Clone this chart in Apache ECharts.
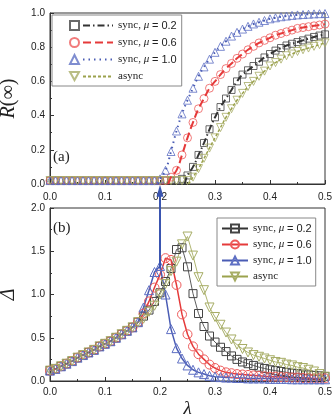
<!DOCTYPE html>
<html>
<head>
<meta charset="utf-8">
<script src="https://cdn.jsdelivr.net/npm/echarts@6.0.0/dist/echarts.min.js"></script>
<style>
  html, body { margin: 0; padding: 0; background: #fff; }
  #chart { width: 333px; height: 415px; }
</style>
</head>
<body>
<div id="chart"></div>
<script>
// lambda grid, 0.00 .. 0.50 step 0.01
const lam = Array.from({ length: 51 }, (_, i) => +(i * 0.01).toFixed(2))

// panel (a): R(inf)
const rSync02 = [0.02,0.02,0.02,0.02,0.02,0.02,0.02,0.02,0.02,0.02,0.02,0.02,0.02,0.02,0.02,0.02,0.02,0.02,0.02,0.02,0.02,0.02,0.02,0.02,
  0.03,0.05,0.10,0.17,0.24,0.32,0.39,0.45,0.50,0.55,0.60,0.64,0.665,0.69,0.715,0.74,0.76,0.78,0.795,0.81,0.82,0.83,0.84,0.85,0.86,0.868,0.875]
const rSync06 = [0.02,0.02,0.02,0.02,0.02,0.02,0.02,0.02,0.02,0.02,0.02,0.02,0.02,0.02,0.02,0.02,0.02,0.02,0.02,0.02,0.02,
  0.02,0.04,0.08,0.17,0.27,0.36,0.44,0.50,0.56,0.60,0.64,0.675,0.705,0.735,0.76,0.785,0.805,0.825,0.84,0.855,0.87,0.88,0.89,0.90,0.91,0.915,0.92,0.925,0.93,0.935]
const rSync10 = [0.02,0.02,0.02,0.02,0.02,0.02,0.02,0.02,0.02,0.02,0.02,0.02,0.02,0.02,0.02,0.02,0.02,0.02,0.02,0.02,
  0.03,0.08,0.19,0.31,0.41,0.49,0.56,0.63,0.685,0.73,0.77,0.805,0.835,0.865,0.887,0.906,0.922,0.936,0.946,0.956,0.966,0.972,0.978,0.982,0.986,0.989,0.991,0.993,0.995,0.996,0.997]
const rAsync = [0.02,0.02,0.02,0.02,0.02,0.02,0.02,0.02,0.02,0.02,0.02,0.02,0.02,0.02,0.02,0.02,0.02,0.02,0.02,0.02,0.02,0.02,0.02,0.02,0.02,
  0.02,0.04,0.09,0.15,0.21,0.27,0.33,0.39,0.44,0.49,0.53,0.57,0.60,0.63,0.66,0.69,0.71,0.73,0.75,0.76,0.775,0.785,0.795,0.805,0.815,0.825]
// where the theory curves leave zero
const thresholds = [0.245, 0.215, 0.197, 0.252]

// panel (b): Delta
const dSync02 = [0.12,0.14,0.17,0.20,0.23,0.27,0.30,0.33,0.36,0.40,0.43,0.46,0.50,0.54,0.58,0.62,0.68,
  0.75,0.82,0.92,1.02,1.15,1.30,1.52,1.54,1.32,1.01,0.78,0.63,0.52,0.45,0.39,0.34,0.29,0.25,0.22,0.20,0.18,0.16,0.145,0.13,0.12,0.11,0.10,0.09,0.085,0.08,0.07,0.065,0.06,0.05]
const dSync06 = [0.12,0.14,0.17,0.20,0.23,0.27,0.30,0.33,0.36,0.40,0.43,0.46,0.50,0.54,0.58,0.62,0.68,
  0.78,0.92,1.08,1.23,1.42,1.40,1.11,0.77,0.54,0.40,0.31,0.25,0.19,0.15,0.12,0.10,0.09,0.08,0.075,0.07,0.065,0.06,0.055,0.05,0.05,0.045,0.045,0.04,0.04,0.035,0.035,0.03,0.03,0.03]
const dSync10 = [0.12,0.14,0.17,0.20,0.23,0.27,0.30,0.33,0.36,0.40,0.43,0.46,0.50,0.54,0.58,0.62,0.68,
  0.85,1.05,1.26,1.33,1.00,0.60,0.38,0.26,0.18,0.13,0.10,0.08,0.06,0.05,0.045,0.04,0.04,0.035,0.035,0.03,0.03,0.03,0.03,0.025,0.025,0.025,0.025,0.02,0.02,0.02,0.02,0.02,0.02,0.02]
const dAsync = [0.12,0.14,0.17,0.20,0.23,0.27,0.30,0.33,0.36,0.40,0.43,0.46,0.50,0.54,0.58,0.62,0.68,
  0.72,0.80,0.87,1.00,1.12,1.27,1.38,1.58,1.67,1.45,1.20,1.05,0.85,0.74,0.65,0.56,0.48,0.42,0.37,0.33,0.30,0.28,0.26,0.24,0.22,0.21,0.19,0.18,0.16,0.15,0.13,0.11,0.08,0.05]

// arrow from the mu=1.0 peak up to the threshold on panel (a)
const arrowSpan = [[0.2, 1.3], [0.2, 2.2]]

const labels = ['sync, {i|μ} {s|= 0.2}', 'sync, {i|μ} {s|= 0.6}', 'sync, {i|μ} {s|= 1.0}', 'async']
const colors = ['#333333', '#e53a3a', '#4a5cb4', '#9ba24c']
const markColors = ['#444444', '#ee5a5a', '#5f70c4', '#a7ad66']
const symbols = ['rect', 'circle', 'triangle', 'path://M0,0L10,0L5,9Z']
const dashes = [[7, 3, 1.5, 3], [8, 4], [1.5, 4], [3, 2]]

const rTop = [rSync02, rSync06, rSync10, rAsync]
const dBottom = [dSync02, dSync06, dSync10, dAsync]

const pairs = arr => lam.map((x, i) => [x, arr[i]])

const series = []
rTop.forEach((arr, k) => {
    series.push({
        name: 'ma' + k, type: 'scatter', xAxisIndex: 0, yAxisIndex: 0,
        data: pairs(arr), symbol: symbols[k],
        symbolSize: k == 0 ? 7 : 8,
        itemStyle: { color: 'rgba(255,255,255,0)', borderColor: markColors[k], borderWidth: 1 },
        emphasis: { disabled: true }
    })
})
rTop.forEach((arr, k) => {
    const th = thresholds[k]
    const pts = [[th, 0]].concat(pairs(arr).filter(p => p[0] > th))
    series.push({
        name: 'la' + k, type: 'line', xAxisIndex: 0, yAxisIndex: 0,
        data: pts, symbol: 'none', smooth: true, z: 3,
        lineStyle: { color: colors[k], width: k == 3 ? 1.5 : 2, type: dashes[k] },
        itemStyle: { color: colors[k] },
        emphasis: { disabled: true }
    })
})
dBottom.forEach((arr, k) => {
    series.push({
        name: 'b' + k, type: 'line', xAxisIndex: 1, yAxisIndex: 1,
        data: pairs(arr), symbol: symbols[k],
        symbolSize: k == 0 ? 8 : 9, showAllSymbol: true,
        lineStyle: { color: colors[k], width: (k == 1 || k == 2) ? 1.5 : 0.8 },
        itemStyle: { color: 'rgba(255,255,255,0)', borderColor: markColors[k], borderWidth: 1 },
        emphasis: { disabled: true }
    })
})
series.push({
    name: 'arrow', type: 'line', xAxisIndex: 1, yAxisIndex: 1, clip: false, z: 5,
    data: [
        { value: arrowSpan[0], symbol: 'none' },
        { value: arrowSpan[1], symbol: 'triangle', symbolSize: [7, 12] }
    ],
    lineStyle: { color: '#3a55b0', width: 2 },
    itemStyle: { color: '#3a55b0' },
    emphasis: { disabled: true }
})

const legendText = {
    fontFamily: 'Liberation Serif', fontSize: 11, color: '#222',
    rich: {
        i: { fontFamily: 'Liberation Serif', fontStyle: 'italic', fontSize: 11, color: '#222' },
        s: { fontFamily: 'Liberation Sans', fontSize: 11, color: '#222' }
    }
}
const nameOf = name => labels[+name.slice(-1)]

const tickLabel = { fontFamily: 'Liberation Sans', fontSize: 10, color: '#222', formatter: v => v.toFixed(1) }

function xAxis(grid, showName) {
    return {
        type: 'value', gridIndex: grid, min: 0, max: 0.5, interval: 0.1,
        axisLine: { lineStyle: { color: '#333' } },
        axisTick: { inside: true, length: 4, lineStyle: { color: '#333' } },
        minorTick: { show: true, splitNumber: 2, length: 2, lineStyle: { color: '#333' } },
        splitLine: { show: false },
        axisLabel: Object.assign({ margin: grid == 0 ? 8 : 6 }, tickLabel),
        name: showName ? 'λ' : '', nameLocation: 'middle', nameGap: 18,
        nameTextStyle: { fontFamily: 'Liberation Serif', fontStyle: 'italic', fontSize: 19, color: '#222' }
    }
}
function yAxis(grid, max, step, name) {
    return {
        type: 'value', gridIndex: grid, min: 0, max: max, interval: step,
        axisLine: { show: true, lineStyle: { color: '#333' } },
        axisTick: { show: true, inside: true, length: 4, lineStyle: { color: '#333' } },
        minorTick: { show: true, splitNumber: 2, length: 2, lineStyle: { color: '#333' } },
        splitLine: { show: false },
        axisLabel: Object.assign({ margin: 5 }, tickLabel),
        name: name, nameLocation: 'middle', nameGap: 31, nameRotate: 90,
        nameTextStyle: {
            fontFamily: 'Liberation Serif', fontSize: 20, color: '#222',
            rich: { i: { fontFamily: 'Liberation Serif', fontStyle: 'italic', fontSize: 20, color: '#222' } }
        }
    }
}

const chart = echarts.init(document.getElementById('chart'))
chart.setOption({
    animation: false,
    backgroundColor: '#fff',
    title: [
        { text: '(a)', left: 53, top: 150, padding: 0, textStyle: { fontFamily: 'Liberation Serif', fontSize: 15, fontWeight: 'normal', color: '#222' } },
        { text: '(b)', left: 53, top: 221, padding: 0, textStyle: { fontFamily: 'Liberation Serif', fontSize: 15, fontWeight: 'normal', color: '#222' } }
    ],
    grid: [
        { left: 50, right: 8, top: 13, height: 171, outerBoundsMode: 'none', show: true, borderColor: '#333', borderWidth: 1, backgroundColor: 'transparent' },
        { left: 50, right: 8, top: 208, height: 173, outerBoundsMode: 'none', show: true, borderColor: '#333', borderWidth: 1, backgroundColor: 'transparent' }
    ],
    xAxis: [xAxis(0, false), xAxis(1, true)],
    yAxis: [yAxis(0, 1, 0.2, '{i|R}(∞)'), yAxis(1, 2, 0.5, '{i|Δ}')],
    legend: [
        {   // panel (a) markers, no text
            data: ['ma0', 'ma1', 'ma2', 'ma3'], orient: 'vertical', left: 69, top: 20, padding: 0,
            itemWidth: 9, itemHeight: 9, itemGap: 6, itemTextGap: 0, formatter: () => '', z: 6,
            selectedMode: false
        },
        {   // panel (a) theory lines with text
            data: ['la0', 'la1', 'la2', 'la3'], orient: 'vertical', left: 52, top: 15,
            padding: [5, 5, 4, 30], itemWidth: 30, itemHeight: 9, itemGap: 6, itemTextGap: 2,
            borderColor: '#888', borderWidth: 1, backgroundColor: '#fff',
            itemStyle: { color: 'rgba(0,0,0,0)', borderWidth: 0 },
            formatter: nameOf, textStyle: legendText, selectedMode: false
        },
        {   // panel (b)
            data: ['b0', 'b1', 'b2', 'b3'], orient: 'vertical', left: 217, top: 218,
            padding: [5, 4, 4, 4], itemWidth: 26, itemHeight: 10, itemGap: 5, itemTextGap: 3,
            borderColor: '#888', borderWidth: 1, backgroundColor: '#fff',
            formatter: nameOf, textStyle: legendText, selectedMode: false
        }
    ],
    series: series
})
</script>
</body>
</html>
